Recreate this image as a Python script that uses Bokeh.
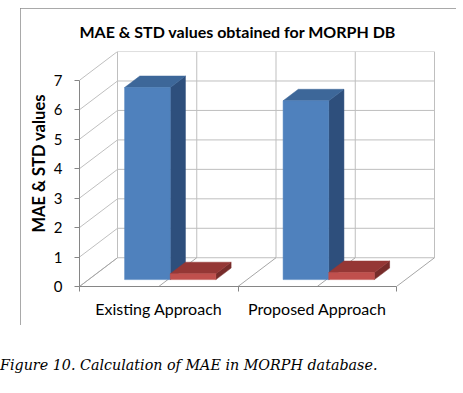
from bokeh.plotting import figure
from bokeh.models import Range1d, FixedTicker, ColumnDataSource, Title, Div
from bokeh.layouts import column
from bokeh.embed import file_html
from bokeh.resources import INLINE

# ---------------- data ----------------
categories = ["Existing Approach", "Proposed Approach"]
mae_values = [6.52, 6.07]
std_values = [0.20, 0.24]
y_ticks = [0, 1, 2, 3, 4, 5, 6, 7]
title_text = "MAE & STD values obtained for MORPH DB"
ylabel_text = "MAE & STD values"
caption_text = "Figure 10. Calculation of MAE in MORPH database."

# ---------------- style / projection ----------------
PX_X = 158.5      # pixels per category unit
PX_Y = 29.71      # pixels per value unit
DEPTH_X = 38 / PX_X          # oblique depth offset (data units)
DEPTH_Y = 29 / PX_Y
BAR_F0, BAR_F1 = 0.24, 0.64  # bar depth span (fraction of depth)
BAR_W = 0.288
CLUSTER_C = 0.515

W, H = 436, 317
ML, MR, MT, MB = 59, 21, 41, 39
XMAX = (W - ML - MR) / PX_X
YMAX = (H - MT - MB) / PX_Y
FONT = "Lato"

ymax_tick = max(y_ticks)
ncat = len(categories)

p = figure(width=W, height=H, x_range=Range1d(0, XMAX), y_range=Range1d(0, YMAX),
           output_backend="svg", toolbar_location=None,
           min_border_left=ML, min_border_right=MR, min_border_top=MT, min_border_bottom=MB,
           margin=(8, 0, 0, 20),
           styles={"outline": "2px solid #8C8C8C", "outline-offset": "-2px"})
p.outline_line_color = None
p.xgrid.visible = False
p.ygrid.visible = False
p.background_fill_color = "white"
p.border_fill_color = "white"

t = Title(text=title_text, align="left", offset=0, text_font=FONT, text_font_style="bold",
          text_font_size="16px", text_color="black", standoff=22)
p.add_layout(t, "above")

# ---------------- walls & floor ----------------
wall_xs, wall_ys = [], []
for v in y_ticks:
    wall_xs.append([DEPTH_X, ncat + DEPTH_X]); wall_ys.append([v + DEPTH_Y, v + DEPTH_Y])
    wall_xs.append([0, DEPTH_X]); wall_ys.append([v, v + DEPTH_Y])
nhalf = ncat * 2
for k in range(nhalf + 1):
    xk = k * 0.5
    wall_xs.append([xk + DEPTH_X, xk + DEPTH_X]); wall_ys.append([DEPTH_Y, ymax_tick + DEPTH_Y])
p.multi_line(wall_xs, wall_ys, line_color="#BFBFBF", line_width=1)

floor_xs, floor_ys = [], []
for k in range(nhalf + 1):
    xk = k * 0.5
    floor_xs.append([xk, xk + DEPTH_X]); floor_ys.append([0, DEPTH_Y])
p.multi_line(floor_xs, floor_ys, line_color="#A6A6A6", line_width=1)

# ---------------- 3D bars ----------------
series = [
    (mae_values, "#4F81BD", "#3D6799", "#2E4F7C"),
    (std_values, "#C0504D", "#953735", "#772C2A"),
]
xs, ys, cols = [], [], []
for c in range(ncat):
    for si, (vals, front, top, side) in enumerate(series):
        v = vals[c]
        x0 = c + CLUSTER_C - BAR_W + si * BAR_W
        x1 = x0 + BAR_W
        a0x, a0y = BAR_F0 * DEPTH_X, BAR_F0 * DEPTH_Y
        a1x, a1y = BAR_F1 * DEPTH_X, BAR_F1 * DEPTH_Y
        xs.append([x1 + a0x, x1 + a1x, x1 + a1x, x1 + a0x])
        ys.append([a0y, a1y, v + a1y, v + a0y]); cols.append(side)
        xs.append([x0 + a0x, x1 + a0x, x1 + a1x, x0 + a1x])
        ys.append([v + a0y, v + a0y, v + a1y, v + a1y]); cols.append(top)
        xs.append([x0 + a0x, x1 + a0x, x1 + a0x, x0 + a0x])
        ys.append([a0y, a0y, v + a0y, v + a0y]); cols.append(front)
src = ColumnDataSource(dict(xs=xs, ys=ys, c=cols))
p.patches("xs", "ys", source=src, fill_color="c", line_color="c", line_width=0.5)

# ---------------- axes ----------------
ya = p.yaxis[0]
ya.ticker = FixedTicker(ticks=y_ticks)
ya.bounds = (0, ymax_tick)
ya.axis_line_color = "#868686"
ya.major_tick_line_color = "#868686"
ya.major_tick_out = 5
ya.major_tick_in = 0
ya.minor_tick_line_color = None
ya.major_label_standoff = 12
ya.major_label_text_font = FONT
ya.major_label_text_font_size = "15px"
ya.major_label_text_color = "black"

yl = Title(text=ylabel_text, align="left", offset=54, text_font=FONT, text_font_style="bold",
           text_font_size="16.5px", text_color="black", standoff=4)
p.add_layout(yl, "left")

xa = p.xaxis[0]
xa.ticker = FixedTicker(ticks=[c + 0.5 for c in range(ncat)], minor_ticks=list(range(ncat + 1)))
xa.major_label_overrides = {c + 0.5: categories[c] for c in range(ncat)}
xa.bounds = (0, ncat)
xa.axis_line_color = "#868686"
xa.major_tick_line_color = None
xa.major_tick_out = 0
xa.major_tick_in = 0
xa.minor_tick_line_color = "#868686"
xa.minor_tick_out = 5
xa.minor_tick_in = 0
xa.major_label_standoff = 7
xa.major_label_text_font = FONT
xa.major_label_text_font_size = "16px"
xa.major_label_text_color = "black"

cap = Div(text=caption_text, width=463, margin=(30, 0, 0, 0),
          styles={"font-family": "'DejaVu Serif'", "font-style": "italic",
                  "font-size": "14.3px", "color": "black", "white-space": "nowrap"})

layout = column(p, cap)
open("out.html", "w").write(file_html(layout, INLINE))
